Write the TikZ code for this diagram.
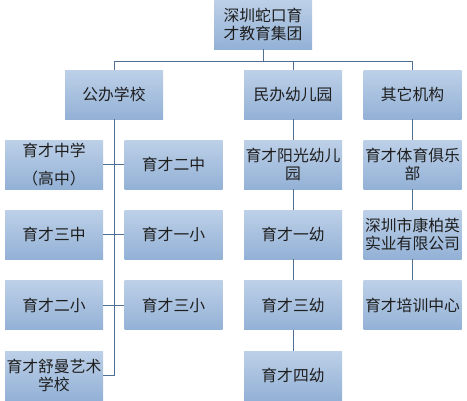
\documentclass[tikz,border=0pt]{standalone}
\usepackage{fontspec}
\newfontfamily\cjk{Noto Sans CJK SC}
\definecolor{boxtop}{HTML}{BDD0E8}
\definecolor{boxbot}{HTML}{93B1D6}
\definecolor{wire}{HTML}{4F7093}
\definecolor{ink}{HTML}{1E1E1E}
\begin{document}
\begin{tikzpicture}[x=1pt,y=-1pt,
  unit/.style={minimum width=98pt,minimum height=49pt,inner sep=0.5pt,
    top color=boxtop,bottom color=boxbot,text=ink,align=center,
    font=\cjk\fontsize{15.8}{18}\selectfont},
  wired/.style={draw=wire,line width=0.8pt}]
\useasboundingbox (0,0) rectangle (467,400);

\node[unit] (root) at (263,24.5) {深圳蛇口育\\才教育集团};

\node[unit] (gov) at (114,94.5) {公办学校};
\node[unit] (pri) at (293,94.5) {民办幼儿园};
\node[unit] (oth) at (412.5,94.5) {其它机构};

% public schools
\node[unit] (s1) at (54,164.5) {育才中学\\[10pt]（高中）};
\node[unit] (s2) at (173.5,164.5) {育才二中};
\node[unit] (s3) at (54,234.5) {育才三中};
\node[unit] (s4) at (173.5,234.5) {育才一小};
\node[unit] (s5) at (54,305) {育才二小};
\node[unit] (s6) at (173.5,305) {育才三小};
\node[unit] (s7) at (54,375.5) {育才舒曼艺术\\学校};

% kindergartens
\node[unit] (k1) at (293,164.5) {育才阳光幼儿\\园};
\node[unit] (k2) at (293,234.5) {育才一幼};
\node[unit] (k3) at (293,305) {育才三幼};
\node[unit] (k4) at (293,375.5) {育才四幼};

% others
\node[unit] (o1) at (412.5,164.5) {育才体育俱乐\\部};
\node[unit] (o2) at (412.5,234.5) {深圳市康柏英\\实业有限公司};
\node[unit] (o3) at (412.5,305) {育才培训中心};

\coordinate (bus) at (0,61);
\draw[wired] (root.south) -- (root.south|-bus);
\draw[wired] (gov.north) |- (oth.north|-bus) -- (oth.north);
\draw[wired] (pri.north) -- (pri.north|-bus);

\draw[wired] (gov.south) |- (s7.east);
\draw[wired] (s1.east) -- (s2.west);
\draw[wired] (s3.east) -- (s4.west);
\draw[wired] (s5.east) -- (s6.west);

\draw[wired] (pri.south) -- (k1.north) (k1.south) -- (k2.north)
  (k2.south) -- (k3.north) (k3.south) -- (k4.north);
\draw[wired] (oth.south) -- (o1.north) (o1.south) -- (o2.north)
  (o2.south) -- (o3.north);
\end{tikzpicture}
\end{document}
